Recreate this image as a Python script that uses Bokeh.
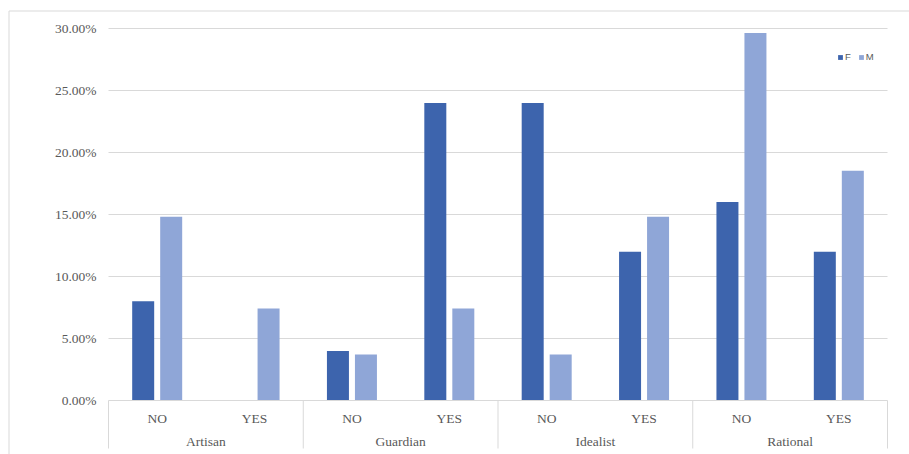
from bokeh.plotting import figure
from bokeh.models import (Range1d, LinearAxis, FixedTicker, NumeralTickFormatter,
                          ColumnDataSource, Legend, LegendItem)
from bokeh.embed import file_html
from bokeh.resources import INLINE

# ---------------- data ----------------
GROUPS = ["Artisan", "Guardian", "Idealist", "Rational"]
ANSWERS = ["NO", "YES"]
SERIES = ["F", "M"]
F_VALUES = [0.08, 0.0, 0.04, 0.24, 0.24, 0.12, 0.16, 0.12]
M_VALUES = [0.1481, 0.0741, 0.037, 0.0741, 0.037, 0.1481, 0.2963, 0.1852]
Y_TICKS = [0.0, 0.05, 0.10, 0.15, 0.20, 0.25, 0.30]

# ---------------- layout (pixels) ----------------
W, H = 909, 454
AX_L, AX_R, AX_ZERO, AX_TOP = 108, 887, 400, 28
SEP_BOTTOM = 448
BORDER_L, BORDER_T = 8.5, 10.5

n_slots = len(GROUPS) * len(ANSWERS)
ux = (AX_R - AX_L) / n_slots          # px per slot
uy = (AX_ZERO - AX_TOP) / Y_TICKS[-1]  # px per unit value

def px_x(px):
    return (px - AX_L) / ux

def px_y(py):
    return (AX_ZERO - py) / uy

x_range = Range1d(px_x(0), px_x(W))
y_range = Range1d(px_y(H), px_y(0))

FONT = "Liberation Serif"
FSIZE = "13.5px"
TXT = "#595959"
GRID = "#D9D9D9"
C_F = "#3D64AD"
C_M = "#8FA6D7"

p = figure(width=W, height=H, x_range=x_range, y_range=y_range,
           output_backend="svg", toolbar_location=None,
           x_axis_location=None, y_axis_location=None,
           min_border=0, outline_line_color=None,
           background_fill_color="white", border_fill_color="white")
p.grid.visible = False

# outer chart border (left + top)
p.segment(x0=[px_x(BORDER_L), px_x(BORDER_L)], y0=[px_y(BORDER_T), px_y(BORDER_T)],
          x1=[px_x(BORDER_L), px_x(W)], y1=[px_y(H), px_y(BORDER_T)],
          line_color="#D9D9D9", line_width=1)

# horizontal gridlines
gl = [t for t in Y_TICKS if t > 0]
p.segment(x0=[0] * len(gl), x1=[n_slots] * len(gl), y0=gl, y1=gl,
          line_color=GRID, line_width=1)

# group separators (Excel multi-level axis)
seps = list(range(0, n_slots + 1, len(ANSWERS)))
p.segment(x0=seps, x1=seps, y0=[0] * len(seps), y1=[px_y(SEP_BOTTOM)] * len(seps),
          line_color=GRID, line_width=1)

# bars
centers = [i + 0.5 for i in range(n_slots)]
off = 14 / ux
bw = 22 / ux
src = ColumnDataSource(dict(
    xf=[c - off for c in centers], xm=[c + off for c in centers],
    f=F_VALUES, m=M_VALUES))
rf = p.vbar(x="xf", top="f", bottom=0, width=bw, source=src,
            fill_color=C_F, line_color=None)
rm = p.vbar(x="xm", top="m", bottom=0, width=bw, source=src,
            fill_color=C_M, line_color=None)

# y axis (labels only)
yax = LinearAxis(fixed_location=0, ticker=FixedTicker(ticks=Y_TICKS),
                 formatter=NumeralTickFormatter(format="0.00%"),
                 axis_line_color=None, major_tick_line_color=None,
                 minor_tick_line_color=None, major_label_standoff=6,
                 major_label_text_font=FONT, major_label_text_font_size=FSIZE,
                 major_label_text_color=TXT)
p.add_layout(yax, "left")

# x axis: answers
ans_labels = {c: ANSWERS[i % len(ANSWERS)] for i, c in enumerate(centers)}
xax = LinearAxis(fixed_location=0, ticker=FixedTicker(ticks=centers),
                 major_label_overrides=ans_labels, bounds=(0, n_slots),
                 axis_line_color=GRID, major_tick_line_color=None,
                 minor_tick_line_color=None, major_label_standoff=4,
                 major_label_text_font=FONT, major_label_text_font_size=FSIZE,
                 major_label_text_color=TXT)
p.add_layout(xax, "below")

# x axis: groups
gcenters = [g * len(ANSWERS) + len(ANSWERS) / 2 for g in range(len(GROUPS))]
gax = LinearAxis(fixed_location=0, ticker=FixedTicker(ticks=gcenters),
                 major_label_overrides={c: GROUPS[i] for i, c in enumerate(gcenters)},
                 axis_line_color=None, major_tick_line_color=None,
                 minor_tick_line_color=None, major_label_standoff=27,
                 major_label_text_font=FONT, major_label_text_font_size=FSIZE,
                 major_label_text_color=TXT)
p.add_layout(gax, "below")

legend = Legend(items=[LegendItem(label=SERIES[0], renderers=[rf]),
                       LegendItem(label=SERIES[1], renderers=[rm])],
                orientation="horizontal", location=(837, H - 62),
                glyph_width=6, glyph_height=6, label_height=9, label_width=5,
                label_standoff=2, spacing=7, padding=0, margin=0,
                border_line_color=None, background_fill_alpha=0,
                label_text_font="Liberation Sans", label_text_font_size="9.5px",
                label_text_color=TXT)
p.add_layout(legend, "center")

open("out.html", "w").write(file_html(p, INLINE))
